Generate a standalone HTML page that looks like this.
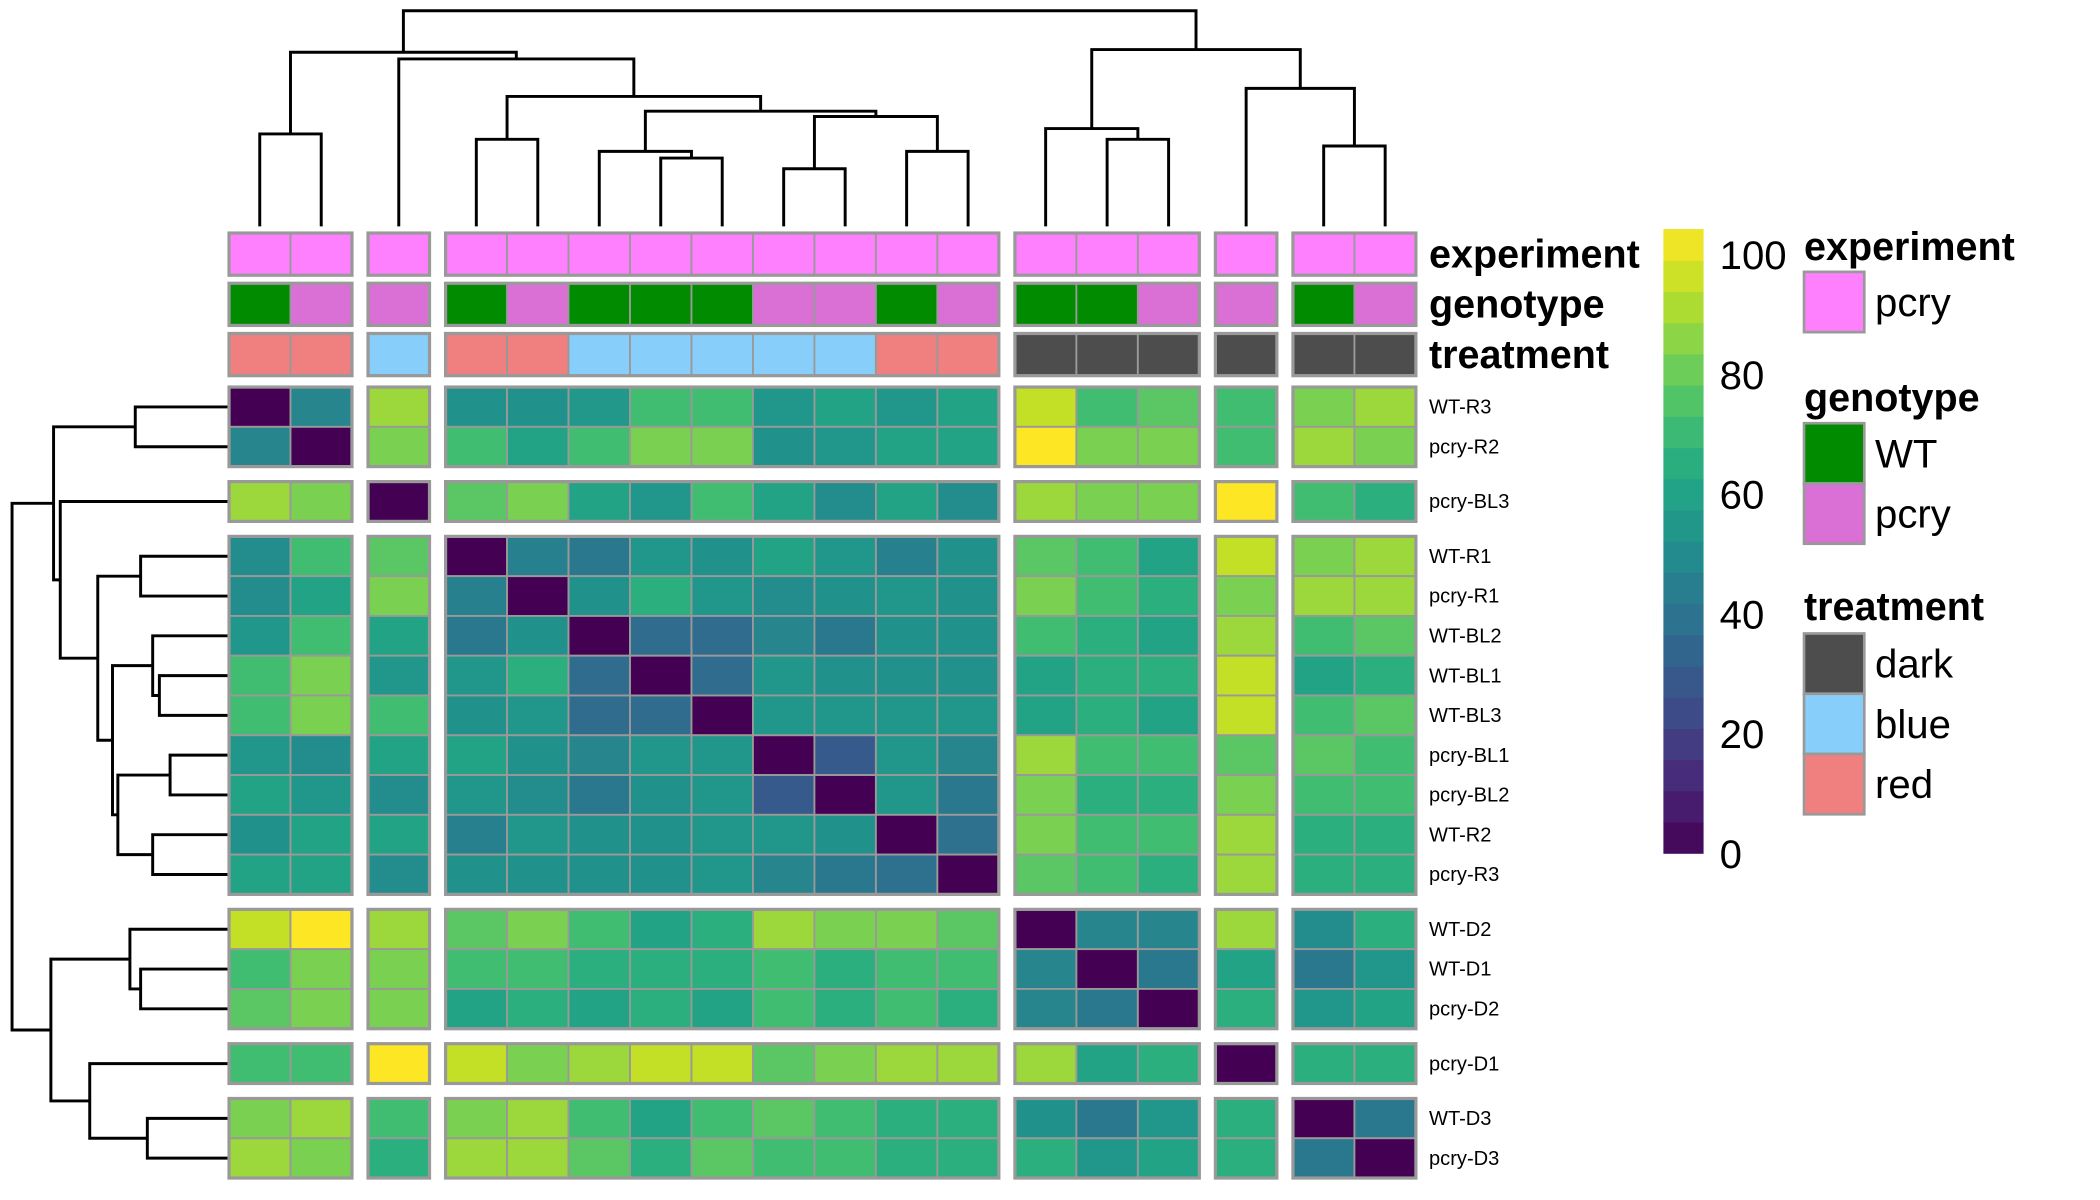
<!DOCTYPE html>
<html><head><meta charset="utf-8"><style>
html,body{margin:0;padding:0;background:#fff;}
svg{display:block;font-family:"Liberation Sans",Arial,sans-serif;}
</style></head><body>
<svg id="chart" width="2100" height="1200" viewBox="0 0 1568 896" preserveAspectRatio="none" xmlns="http://www.w3.org/2000/svg">
<g id="dendro-col"></g>
<g id="dendro-row"></g>
<g id="annot"></g>
<g id="cells"></g>
<g id="labels"></g>
<g id="legend"></g>
</svg>
<script>
const samples = ["WT-R3","pcry-R2","pcry-BL3","WT-R1","pcry-R1","WT-BL2","WT-BL1","WT-BL3","pcry-BL1","pcry-BL2","WT-R2","pcry-R3","WT-D2","WT-D1","pcry-D2","pcry-D1","WT-D3","pcry-D3"];
const values = [
[0,45,85,50,50,53,69,69,52,58,52,58,91,69,74,69,80,85],
[45,0,80,69,58,69,80,80,50,52,58,58,100,80,80,69,85,80],
[85,80,0,74,80,58,52,69,58,48,58,48,85,80,80,100,69,63],
[48,69,74,0,43,40,52,50,58,52,43,50,74,69,58,91,80,85],
[48,58,80,43,0,50,63,52,48,50,52,50,80,69,63,80,85,85],
[52,69,58,40,50,0,35,35,45,40,50,50,69,63,58,85,69,74],
[69,80,52,52,63,35,0,35,52,50,50,50,58,63,63,91,58,63],
[69,80,69,50,52,35,35,0,52,52,52,52,58,63,58,91,69,74],
[52,48,58,58,50,45,52,52,0,28,52,45,85,69,69,74,74,69],
[58,52,48,52,48,40,50,52,28,0,52,40,80,63,63,80,69,69],
[50,58,58,43,52,50,50,52,52,50,0,37,80,69,69,85,63,63],
[58,58,48,50,50,50,50,52,45,40,37,0,74,69,63,85,63,63],
[91,100,85,74,80,69,58,63,85,80,80,74,0,45,45,85,48,63],
[69,80,80,69,69,63,63,63,69,63,69,69,45,0,40,58,40,52],
[74,80,80,58,63,58,63,58,69,63,69,63,45,40,0,63,52,58],
[69,69,100,91,80,85,91,91,74,80,85,85,85,58,63,0,63,63],
[80,85,69,80,85,69,58,69,74,69,63,63,50,40,52,63,0,40],
[85,80,63,85,85,74,63,74,69,69,63,63,63,52,58,63,40,0]
];
// merges: [a,b,height]; negative = leaf index (-(i+1)), positive = merge number (1-based)
const merges = [
[-1,-2,69],[-4,-5,65],[-7,-8,51],[-6,3,56],[-9,-10,43],[-11,-12,56],[5,6,82],[4,7,86],[2,8,97],[-3,9,125],[1,10,130],
[-14,-15,65],[-13,12,73],[-17,-18,60],[-16,14,103],[13,15,132],[11,16,161]
];
const groupSizes = [2,1,9,3,1,2];
const colorTicks = [0,20,40,60,80,100];

const NS="http://www.w3.org/2000/svg";
function mk(tag,attrs,parent){const e=document.createElementNS(NS,tag);for(const k in attrs)e.setAttribute(k,attrs[k]);parent.appendChild(e);return e;}
const vir=["#440154","#482475","#414487","#355f8d","#2a788e","#21918c","#22a884","#44bf70","#7ad151","#bddf26","#fde725"];
function hex2rgb(h){return [1,3,5].map(i=>parseInt(h.substr(i,2),16));}
function viridis(t){t=Math.max(0,Math.min(1,t));const p=t*10,i=Math.min(9,Math.floor(p)),f=p-i;const a=hex2rgb(vir[i]),b=hex2rgb(vir[i+1]);return "rgb("+a.map((v,k)=>Math.round(v+(b[k]-v)*f)).join(",")+")";}

const X0=171,CW=45.9,GX=12, Y0=289,CH=29.7,GY=11.2;
const n=samples.length;
const colX=[],rowY=[],groupIdx=[];
{let g=0,c=0;for(let i=0;i<n;i++){if(c>=groupSizes[g]){g++;c=0;}groupIdx.push(g);c++;}}
for(let i=0;i<n;i++){colX.push(X0+i*CW+groupIdx[i]*GX);rowY.push(Y0+i*CH+groupIdx[i]*GY);}
const xScale=v=>v/100;

const cg=document.getElementById('cells');
for(let r=0;r<n;r++)for(let c=0;c<n;c++){
  const e=mk('rect',{x:colX[c],y:rowY[r],width:CW,height:CH,fill:viridis(xScale(values[r][c])),stroke:"#999",'stroke-width':1.4},cg);
  
  
}
function groupBounds(pos,size){const b=[];let s=0;groupSizes.forEach((gs)=>{b.push([pos[s],pos[s+gs-1]+size]);s+=gs;});return b;}
const gbx=groupBounds(colX,CW),gby=groupBounds(rowY,CH);
gbx.forEach(bx=>gby.forEach(by=>{mk('rect',{x:bx[0],y:by[0],width:bx[1]-bx[0],height:by[1]-by[0],fill:"none",stroke:"#999",'stroke-width':2.4},cg);}));

const ag=document.getElementById('annot');
const annRows=[{name:"experiment",y:174},{name:"genotype",y:211.5},{name:"treatment",y:249}];
const AH=31.5;
const annColors={experiment:{pcry:"#ff80ff"},genotype:{WT:"#008b00",pcry:"#da70d6"},treatment:{dark:"#4d4d4d",blue:"#87cefa",red:"#f08080"}};
function annVal(s,k){if(k==="experiment")return "pcry";if(k==="genotype")return s.startsWith("WT")?"WT":"pcry";const t=s.split("-")[1];return t.startsWith("BL")?"blue":(t.startsWith("D")?"dark":"red");}
annRows.forEach(a=>{
  for(let c=0;c<n;c++){
    const e=mk('rect',{x:colX[c],y:a.y,width:CW,height:AH,fill:annColors[a.name][annVal(samples[c],a.name)],stroke:"#999",'stroke-width':1.4},ag);
    
    
  }
  gbx.forEach(bx=>mk('rect',{x:bx[0],y:a.y,width:bx[1]-bx[0],height:AH,fill:"none",stroke:"#999",'stroke-width':2.4},ag));
  const t=mk('text',{x:1067,y:a.y+AH/2+10,'font-size':29.5,'font-weight':'bold',fill:'#000'},ag);
  t.textContent=a.name;
  
  
});

const lg=document.getElementById('labels');
for(let r=0;r<n;r++){
  const t=mk('text',{x:1067,y:rowY[r]+CH/2+5,'font-size':15,fill:'#000'},lg);
  t.textContent=samples[r];
  
  
}

function drawDendro(g,centers,base,horizontal){
  const pos=[],h=[];
  merges.forEach((m)=>{
    const get=id=>id<0?[centers[-id-1],0]:[pos[id-1],h[id-1]];
    const [pa,ha]=get(m[0]),[pb,hb]=get(m[1]);
    const H=m[2];
    let d;
    if(!horizontal) d=`M${pa},${base-ha}V${base-H}H${pb}V${base-hb}`;
    else d=`M${base-ha},${pa}H${base-H}V${pb}H${base-hb}`;
    const e=mk('path',{d:d,fill:'none',stroke:'#000','stroke-width':2.2},g);
    
    
    pos.push((pa+pb)/2);h.push(H);
  });
}
drawDendro(document.getElementById('dendro-col'),colX.map(x=>x+CW/2),169,false);
drawDendro(document.getElementById('dendro-row'),rowY.map(y=>y+CH/2),170,true);

const leg=document.getElementById('legend');
const CBX=1242,CBW=30,CBtop=171,CBbot=637;
const steps=20;
for(let i=0;i<steps;i++){
  const h=(CBbot-CBtop)/steps;
  const e=mk('rect',{x:CBX,y:CBbot-(i+1)*h,width:CBW,height:h+0.5,fill:viridis((i+0.5)/steps)},leg);
  
  
}
const tickY=v=>637-(v/100)*(637-190);
colorTicks.forEach(v=>{
  const t=mk('text',{x:1284,y:tickY(v)+11,'font-size':30,fill:'#000'},leg);
  t.textContent=v;
  
  
});
const legDefs=[{title:"experiment",ty:194,items:["pcry"],y0:203},{title:"genotype",ty:307,items:["WT","pcry"],y0:316},{title:"treatment",ty:463,items:["dark","blue","red"],y0:473}];
legDefs.forEach(L=>{
  const t=mk('text',{x:1347,y:L.ty,'font-size':29.5,'font-weight':'bold',fill:'#000'},leg);
  t.textContent=L.title;
  
  
  L.items.forEach((it,i)=>{
    const y=L.y0+i*45;
    const r=mk('rect',{x:1347,y:y,width:45,height:45,fill:annColors[L.title][it],stroke:'#999','stroke-width':2},leg);
    
    
    const tt=mk('text',{x:1400,y:y+33,'font-size':30,fill:'#000'},leg);
    tt.textContent=it;
    
    
  });
});
</script>
</body></html>
